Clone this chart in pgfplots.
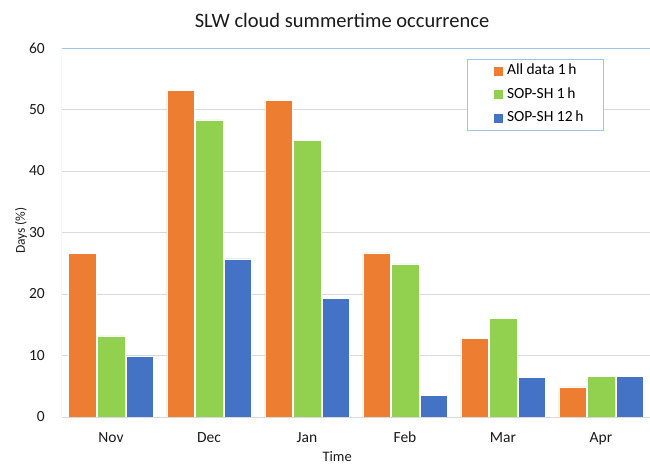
\documentclass[border=0pt]{standalone}
\usepackage{fontspec}
\setmainfont{Carlito}
\usepackage{pgfplots}
\pgfplotsset{compat=1.18}
\definecolor{allorange}{HTML}{ED7D31}
\definecolor{sopgreen}{HTML}{92D050}
\definecolor{sopblue}{HTML}{4472C4}
\definecolor{frameblue}{HTML}{9DC3E6}
\definecolor{gridgray}{HTML}{D9D9D9}
\definecolor{txt}{HTML}{1A1A1A}

\begin{document}
\begin{tikzpicture}[x=1pt,y=1pt]
\useasboundingbox (-62,-47) rectangle (588,417);
\begin{axis}[
  at={(0,0)}, anchor=south west,
  scale only axis, width=588pt, height=369pt,
  ybar=1pt, bar width=27.5pt,
  xmin=-0.5, xmax=5.5,
  ymin=0, ymax=60, ytick={0,10,...,60},
  xtick=data, xticklabels={Nov,Dec,Jan,Feb,Mar,Apr},
  major tick length=0pt,
  axis line style={draw=none},
  ymajorgrids, major grid style={gridgray, line width=0.8pt},
  /pgf/number format/assume math mode=true,
  tick label style={font=\fontsize{15.5}{18}\selectfont, text=txt},
  xticklabel style={anchor=base, yshift=-25pt},
  yticklabel style={anchor=east, inner sep=0pt, xshift=-17pt},
  xlabel={Time},
  xlabel style={at={(rel axis cs:0.468,0)}, anchor=base, yshift=-44pt,
    font=\fontsize{14.5}{17}\selectfont, text=txt},
  ylabel={Days (\%)},
  ylabel style={at={(rel axis cs:0,0.505)}, anchor=center, yshift=41pt,
    font=\fontsize{13.5}{16}\selectfont, text=txt},
  legend style={at={(rel axis cs:0.689,0.970)}, anchor=north west,
    draw=frameblue, line width=0.8pt, fill=white,
    inner xsep=20pt, inner ysep=5pt, row sep=10pt,
    font=\fontsize{15.5}{18}\selectfont,
    nodes={inner sep=0pt, text height=10.5pt, text depth=3pt}},
  legend cell align=left,
  legend image code/.code={
    \path (0pt,0pt) -- (10pt,0pt);
    \fill[#1,draw=none] (6pt,-4.5pt) rectangle (15pt,4.5pt);
    \path (19pt,0pt);},
  every axis plot/.append style={draw=white, line width=0.5pt},
]
\addplot[fill=allorange] coordinates {(0,26.6) (1,53.1) (2,51.5) (3,26.7) (4,12.8) (5,4.9)};
\addplot[fill=sopgreen] coordinates {(0,13.2) (1,48.3) (2,45.0) (3,24.9) (4,16.0) (5,6.6)};
\addplot[fill=sopblue] coordinates {(0,9.9) (1,25.7) (2,19.3) (3,3.5) (4,6.5) (5,6.6)};
\legend{All data 1\,h, SOP-SH 1\,h, SOP-SH 12\,h}
\draw[frameblue, line width=1pt] (rel axis cs:0,0) -- (rel axis cs:0,1) -- (rel axis cs:1,1);
\draw[gridgray, line width=1pt] (rel axis cs:0,0) -- (rel axis cs:1,0);
\end{axis}
\node[anchor=base, font=\fontsize{20.5}{24}\selectfont, text=txt] at (280,389) {SLW cloud summertime occurrence};
\end{tikzpicture}
\end{document}
